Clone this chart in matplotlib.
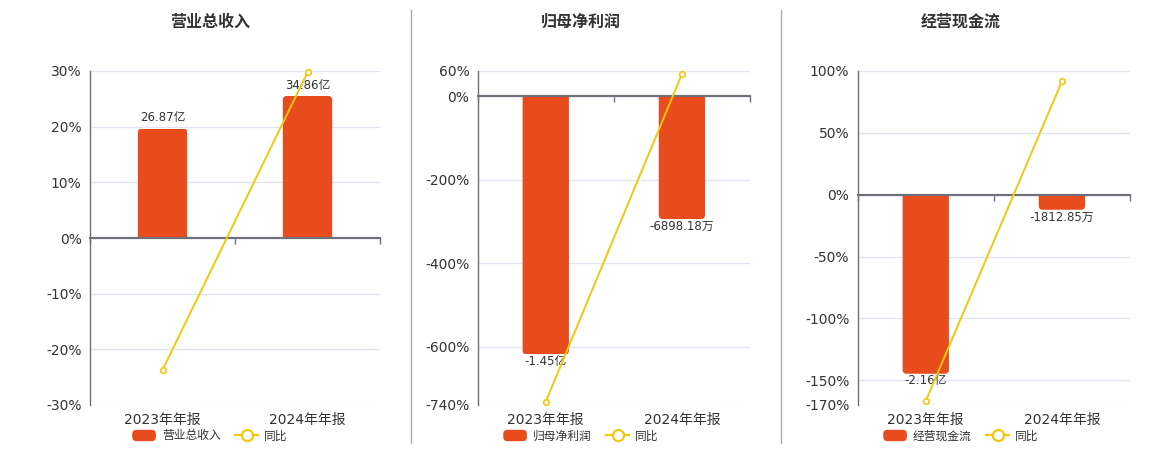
import numpy as np
import matplotlib
matplotlib.use("Agg")
import matplotlib.pyplot as plt
from matplotlib.patches import Patch, FancyBboxPatch, Rectangle
from matplotlib.lines import Line2D
from matplotlib.legend_handler import HandlerPatch

plt.rcParams['font.family'] = ['DejaVu Sans', 'Noto Sans CJK SC']

# ---- data ----
categories = ['2023年年报', '2024年年报']
titles = ['营业总收入', '归母净利润', '经营现金流']

# bar values in 亿
revenue = [26.87, 34.86]
net_profit = [-1.45, -0.689818]
cash_flow = [-2.16, -0.181285]
revenue_labels = ['26.87亿', '34.86亿']
net_profit_labels = ['-1.45亿', '-6898.18万']
cash_flow_labels = ['-2.16亿', '-1812.85万']

# 同比 (%)
revenue_yoy = [-23.7, 29.74]
net_profit_yoy = [-732.0, 52.4]
cash_flow_yoy = [-166.7, 91.6]

revenue_ticks = [-30, -20, -10, 0, 10, 20, 30]
net_profit_ticks = [-740, -600, -400, -200, 0, 60]
cash_flow_ticks = [-170, -150, -100, -50, 0, 50, 100]

# hidden bar-axis ranges (zero aligned with 0%)
revenue_bar_lim = (-41.0, 41.0)
net_profit_bar_lim = (-1.7334, 0.1405)
cash_flow_bar_lim = (-2.537, 1.4925)

BAR = '#E84B1C'
LINE = '#F2C80F'
GRID = '#E0E6F1'
AXIS = '#6E7079'
TXT = '#333333'

W, H = 1160, 450
fig = plt.figure(figsize=(W / 100, H / 100), dpi=100)

panels = [
    (titles[0], revenue, revenue_labels, revenue_yoy, revenue_ticks, revenue_bar_lim, 90, 380, 210),
    (titles[1], net_profit, net_profit_labels, net_profit_yoy, net_profit_ticks, net_profit_bar_lim, 477.7, 750, 581),
    (titles[2], cash_flow, cash_flow_labels, cash_flow_yoy, cash_flow_ticks, cash_flow_bar_lim, 857.7, 1130, 961),
]

top_px, bot_px = 71, 405
x = np.arange(len(categories))
radius_px = 4


def rounded_handle(legend, orig_handle, xdescent, ydescent, width, height, fontsize):
    return FancyBboxPatch((-xdescent, -ydescent), width, height,
                          boxstyle='round,pad=0,rounding_size=3')


for title, bars, blabels, yoy, ticks, blim, x0, x1, cx in panels:
    rect = [x0 / W, 1 - bot_px / H, (x1 - x0) / W, (bot_px - top_px) / H]
    ax = fig.add_axes(rect)
    ax.set_xlim(-0.5, 1.5)
    ax.set_ylim(min(ticks), max(ticks))
    ax.set_yticks(ticks)
    ax.set_yticklabels([f'{t}%' for t in ticks], fontsize=10, color=TXT)
    ax.tick_params(axis='y', length=0, pad=6)
    ax.grid(axis='y', color=GRID, linewidth=1)
    ax.set_axisbelow(True)
    for s in ['top', 'right']:
        ax.spines[s].set_visible(False)
    ax.spines['left'].set_color(AXIS)
    ax.spines['left'].set_linewidth(1)
    ax.spines['bottom'].set_position(('data', 0))
    ax.spines['bottom'].set_color(AXIS)
    ax.spines['bottom'].set_linewidth(1.5)
    ax.set_xticks([-0.5, 0.5, 1.5])
    ax.set_xticklabels([])
    ax.tick_params(axis='x', length=4, color=AXIS, width=1)
    for i, c in enumerate(categories):
        ax.annotate(c, xy=(i, 0), xycoords=ax.get_xaxis_transform(),
                    xytext=(0, -6), textcoords='offset points',
                    ha='center', va='top', fontsize=10, color=TXT)

    # bars on hidden axis
    axb = ax.twinx()
    axb.set_ylim(*blim)
    axb.axis('off')
    rects = axb.bar(x, bars, width=0.34, color=BAR, zorder=2)

    # round the outer corners of each bar
    px_x = (x1 - x0) / 2.0
    px_y = (bot_px - top_px) / (blim[1] - blim[0])
    r_x = radius_px / px_x
    r_y = radius_px / px_y
    for rc in rects:
        bx, by, bw, bh = rc.get_x(), rc.get_y(), rc.get_width(), rc.get_height()
        y_lo, y_hi = min(by, by + bh), max(by, by + bh)
        if bh >= 0:
            y_lo -= r_y
        else:
            y_hi += r_y
        fb = FancyBboxPatch((bx, y_lo), bw, y_hi - y_lo,
                            boxstyle=f'round,pad=0,rounding_size={r_x}',
                            mutation_aspect=px_x / px_y,
                            facecolor=BAR, edgecolor='none', zorder=2)
        axb.add_patch(fb)
        clip = Rectangle((bx - 0.1, min(by, by + bh)), bw + 0.2, abs(bh),
                         transform=axb.transData)
        fb.set_clip_path(clip)
        rc.set_visible(False)

    axb.axhline(0, color=AXIS, linewidth=1.5, zorder=3)
    for i, (v, lab) in enumerate(zip(bars, blabels)):
        off = 3 if v >= 0 else -0.5
        axb.annotate(lab, xy=(i, v), xytext=(0, off), textcoords='offset points',
                     ha='center', va='bottom' if v >= 0 else 'top',
                     fontsize=8.5, color=TXT, zorder=4)

    # 同比 line
    axl = ax.twinx()
    axl.set_ylim(min(ticks), max(ticks))
    axl.axis('off')
    axl.plot(x, yoy, color=LINE, linewidth=1.4, marker='o', markersize=4,
             markerfacecolor='white', markeredgecolor=LINE, markeredgewidth=1.2,
             clip_on=False)

    fig.text(cx / W, 1 - 22 / H, title, ha='center', va='center',
             fontsize=11.5, fontweight='bold', color=TXT)

    handles = [Patch(facecolor=BAR, edgecolor='none'),
               Line2D([0], [0], color=LINE, linewidth=1.6, marker='o', markersize=8,
                      markerfacecolor='white', markeredgecolor=LINE, markeredgewidth=1.6)]
    leg = fig.legend(handles, [title, '同比'], loc='center',
                     bbox_to_anchor=(cx / W, 1 - 436 / H), ncol=2, frameon=False,
                     fontsize=8.5, handlelength=2.0, handleheight=1.1,
                     handletextpad=0.5, columnspacing=1.2, borderpad=0,
                     handler_map={Patch: HandlerPatch(patch_func=rounded_handle)})
    for t in leg.get_texts():
        t.set_color(TXT)

# panel separators
for sx in [411, 781]:
    fig.add_artist(Line2D([sx / W, sx / W], [1 - 10 / H, 1 - 443 / H],
                          color='#AAAAAA', linewidth=1))

fig.savefig('out.png', dpi=100)
